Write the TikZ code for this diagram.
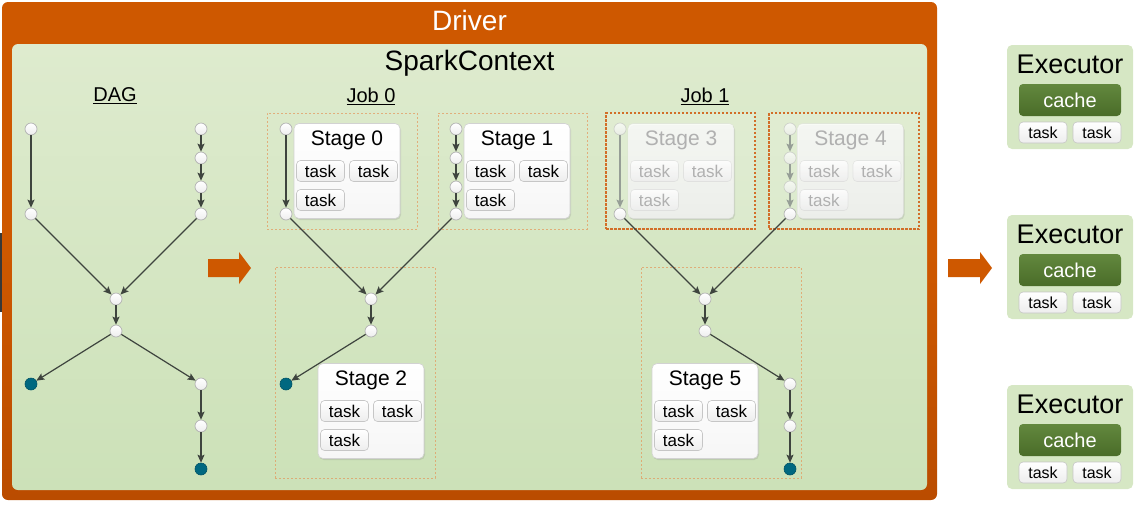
\documentclass[tikz,border=0pt]{standalone}
\usepackage{fontspec}
\setmainfont{Liberation Sans}
\usetikzlibrary{arrows.meta,shadows,calc}
\definecolor{drv}{RGB}{206,88,0}
\definecolor{drvdark}{RGB}{186,76,0}
\definecolor{sctop}{RGB}{222,235,206}
\definecolor{scbot}{RGB}{204,225,184}
\definecolor{execc}{RGB}{214,231,196}
\definecolor{cachetop}{RGB}{98,136,62}
\definecolor{cachebot}{RGB}{74,108,40}
\definecolor{edgec}{RGB}{62,68,62}
\definecolor{fadec}{RGB}{150,158,150}
\definecolor{tealc}{RGB}{0,104,128}
\definecolor{dashlight}{RGB}{228,150,90}
\definecolor{dashdark}{RGB}{210,110,40}
\newcommand\fs[1]{\fontsize{#1}{#1}\selectfont}
\tikzset{
  box/.style={inner sep=0pt, outer sep=0pt},
  dot/.style={circle, minimum size=12pt, inner sep=0pt, draw=gray!60, line width=0.7pt, top color=white, bottom color=gray!14},
  tdot/.style={circle, minimum size=12pt, inner sep=0pt, draw=tealc!80!black, line width=0.6pt, fill=tealc},
  edge/.style={draw=edgec, line width=1.2pt, -{Stealth[length=8pt,width=7pt,inset=1.5pt]}},
  fedge/.style={draw=fadec, line width=1.2pt, -{Stealth[length=8pt,width=7pt,inset=1.5pt]}},
  jobbox/.style={box, draw=dashlight, draw opacity=0.7, line width=0.9pt, dash pattern=on 2pt off 2pt},
  jobboxdark/.style={box, draw=dashdark, line width=1.1pt, dash pattern=on 2.5pt off 1.5pt, fill=white, fill opacity=0.15},
  card/.style={box, rounded corners=5pt, draw=gray!35, line width=0.6pt, top color=white, bottom color=gray!7, minimum width=106pt, minimum height=95pt, drop shadow={opacity=0.22, shadow xshift=1pt, shadow yshift=-1.5pt}},
  stitle/.style={font=\fs{21}, text=black},
  taskb/.style={box, rounded corners=4pt, draw=gray!45, line width=0.6pt, top color=white, bottom color=gray!14, minimum width=48pt, minimum height=21pt, font=\fs{17}, text=black},
  faded/.style={fill opacity=0.8, draw opacity=0.35, text=gray!62, text opacity=1},
  fdot/.style={dot, fill opacity=0.7, draw opacity=0.5},
  hdr/.style={font=\fs{20}},
  bigarrow/.style={fill=drv}
}
\newcommand\StageCard[5]{%
  \node[card,#5] (#1) at (#2,#3) {};
  \node[stitle,#5] (#1t) at ($(#1)+(0,-31)$) {#4};
  \node[taskb,#5] (#1a) at ($(#1)+(-26.5,0)$) {task};
  \node[taskb,#5] (#1b) at ($(#1)+(26.5,0)$) {task};
  \node[taskb,#5] (#1c) at ($(#1)+(-26.5,29)$) {task};
}
\newcommand\ExecBox[2]{%
  \node[box, rounded corners=5pt, fill=execc, minimum width=126pt, minimum height=104pt] (#1) at (1070,#2) {};
  \node[font=\fs{27}] (#1t) at ($(#1)+(0,-33)$) {Executor};
  \node[box, rounded corners=4pt, top color=cachetop, bottom color=cachebot, minimum width=102pt, minimum height=32pt, font=\fs{20}, text=white] (#1c) at ($(#1)+(0,3)$) {cache};
  \node[taskb, font=\fs{16}] (#1a) at ($(#1)+(-27,35.5)$) {task};
  \node[taskb, font=\fs{16}] (#1b) at ($(#1)+(27,35.5)$) {task};
}
\begin{document}
\begin{tikzpicture}[x=1pt,y=-1pt]
\useasboundingbox (0,0) rectangle (1142,507);
% left edge sliver
\fill[black!78] (0,233) rectangle (3,312);
% Driver and SparkContext
\node[box, rounded corners=6pt, top color=drv, bottom color=drvdark, middle color=drv, minimum width=935pt, minimum height=498pt] (driver) at (469.5,251) {};
\node[font=\fs{28}, text=white] (drivert) at (469.5,20) {Driver};
\node[box, rounded corners=6pt, top color=sctop, bottom color=scbot, minimum width=915pt, minimum height=446pt] (sc) at (469.5,267) {};
\node[font=\fs{28}] (sct) at (469.5,63) {SparkContext};
% headers
\node[hdr] (dagt) at (115,96) {\underline{DAG}};
\node[hdr] (job0t) at (371,96) {\underline{Job 0}};
\node[hdr] (job1t) at (705,96) {\underline{Job 1}};
% big arrows
\fill[bigarrow] (208,259) -- (239,259) -- (239,252) -- (251,268) -- (239,284) -- (239,277) -- (208,277) -- cycle;
\fill[bigarrow] (948,259) -- (980,259) -- (980,252) -- (992,268) -- (980,284) -- (980,277) -- (948,277) -- cycle;
% DAG
\node[dot] (a1) at (31,129) {};
\node[dot] (a2) at (31,214) {};
\node[dot] (b1) at (201,129) {};
\node[dot] (b2) at (201,158) {};
\node[dot] (b3) at (201,187) {};
\node[dot] (b4) at (201,214) {};
\node[dot] (c1) at (116,299) {};
\node[dot] (c2) at (116,331) {};
\node[tdot] (d1) at (31,384) {};
\node[dot] (e1) at (201,384) {};
\node[dot] (e2) at (201,426) {};
\node[tdot] (e3) at (201,469) {};
\draw[edge] (a1) -- (a2);
\draw[edge] (b1) -- (b2);
\draw[edge] (b2) -- (b3);
\draw[edge] (b3) -- (b4);
\draw[edge] (a2) -- (c1);
\draw[edge] (b4) -- (c1);
\draw[edge] (c1) -- (c2);
\draw[edge] (c2) -- (d1);
\draw[edge] (c2) -- (e1);
\draw[edge] (e1) -- (e2);
\draw[edge] (e2) -- (e3);
% Job 0 boxes
\node[jobbox, minimum width=150pt, minimum height=116pt] (s0box) at (342,171) {};
\node[jobbox, minimum width=149pt, minimum height=116pt] (s1box) at (512.5,171) {};
\node[jobbox, minimum width=160pt, minimum height=211pt] (s2box) at (355,372.5) {};
\StageCard{s0}{347}{171}{Stage 0}{}
\StageCard{s1}{517}{171}{Stage 1}{}
\StageCard{s2}{371}{411}{Stage 2}{}
\node[dot] (f1) at (286,129) {};
\node[dot] (f2) at (286,214) {};
\node[dot] (g1) at (456,129) {};
\node[dot] (g2) at (456,158) {};
\node[dot] (g3) at (456,187) {};
\node[dot] (g4) at (456,214) {};
\node[dot] (h1) at (371,299) {};
\node[dot] (h2) at (371,331) {};
\node[tdot] (h3) at (286,384) {};
\draw[edge] (f1) -- (f2);
\draw[edge] (g1) -- (g2);
\draw[edge] (g2) -- (g3);
\draw[edge] (g3) -- (g4);
\draw[edge] (f2) -- (h1);
\draw[edge] (g4) -- (h1);
\draw[edge] (h1) -- (h2);
\draw[edge] (h2) -- (h3);
% Job 1 boxes
\node[jobboxdark, minimum width=149pt, minimum height=116pt] (s3box) at (680.5,171) {};
\node[jobboxdark, minimum width=150pt, minimum height=116pt] (s4box) at (844,171) {};
\node[jobbox, minimum width=160pt, minimum height=211pt] (s5box) at (721,372.5) {};
\StageCard{s3}{681}{171}{Stage 3}{faded}
\StageCard{s4}{850.5}{171}{Stage 4}{faded}
\StageCard{s5}{705}{411}{Stage 5}{}
\node[fdot] (i1) at (620,129) {};
\node[dot] (i2) at (620,214) {};
\node[fdot] (j1) at (790,129) {};
\node[fdot] (j2) at (790,158) {};
\node[fdot] (j3) at (790,187) {};
\node[dot] (j4) at (790,214) {};
\node[dot] (k1) at (705,299) {};
\node[dot] (k2) at (705,331) {};
\node[dot] (k3) at (790,384) {};
\node[dot] (k4) at (790,426) {};
\node[tdot] (k5) at (790,469) {};
\draw[fedge] (i1) -- (i2);
\draw[fedge] (j1) -- (j2);
\draw[fedge] (j2) -- (j3);
\draw[fedge] (j3) -- (j4);
\draw[edge] (i2) -- (k1);
\draw[edge] (j4) -- (k1);
\draw[edge] (k1) -- (k2);
\draw[edge] (k2) -- (k3);
\draw[edge] (k3) -- (k4);
\draw[edge] (k4) -- (k5);
% Executors
\ExecBox{x1}{97}
\ExecBox{x2}{267}
\ExecBox{x3}{437}
\end{tikzpicture}
\end{document}
